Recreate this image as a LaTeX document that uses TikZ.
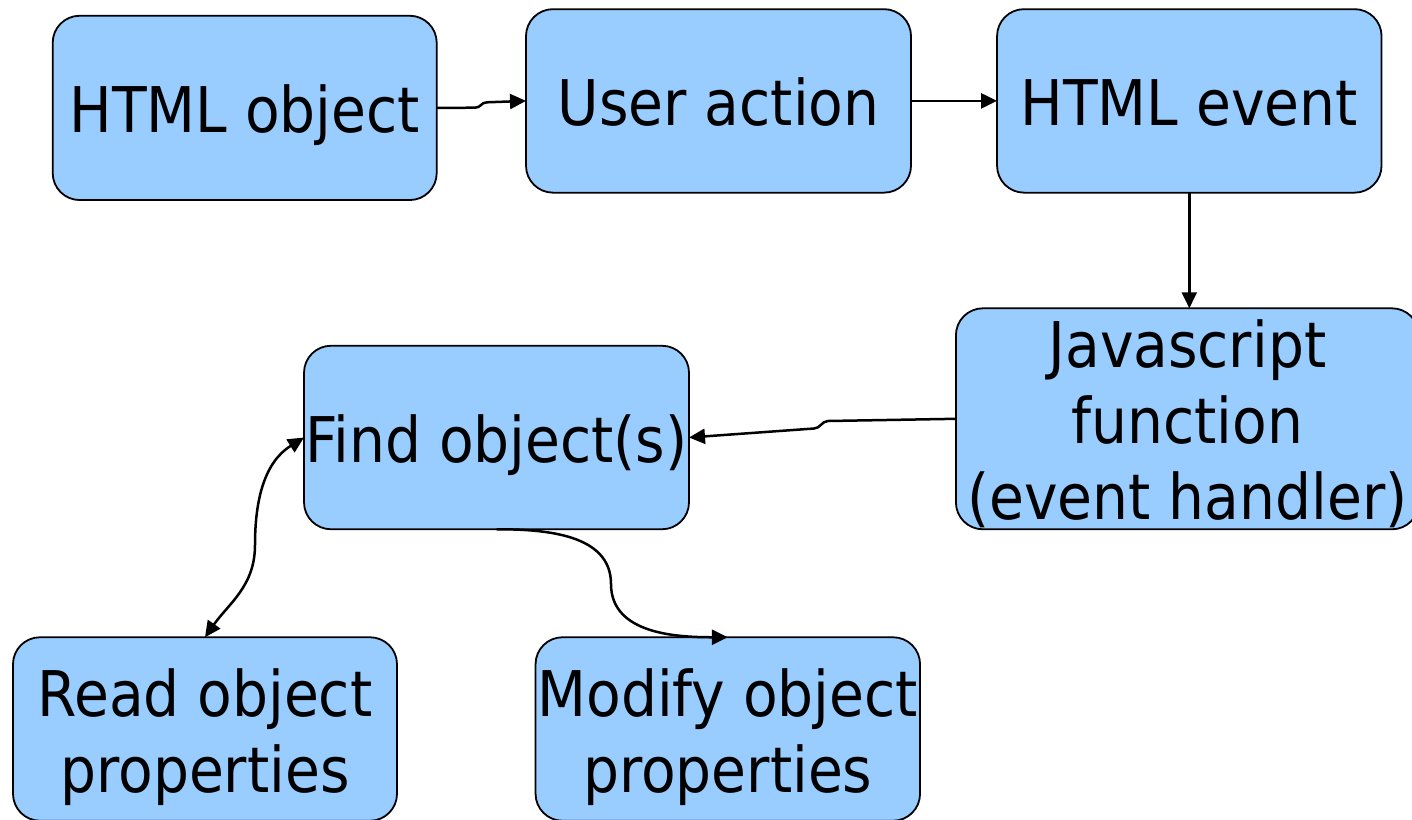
\documentclass[tikz,border=0pt]{standalone}
\usepackage{fontspec}
\setmainfont{DejaVu Sans Condensed}
\usetikzlibrary{arrows.meta}
\definecolor{boxblue}{HTML}{99CCFF}
\begin{document}
\begin{tikzpicture}[x=1pt,y=1pt,
  >={Triangle[length=16pt,width=15pt]},
  box/.style={draw=black, line width=1.8pt, fill=boxblue, rounded corners=27pt,
    inner sep=0pt, outer sep=0pt, font=\fontsize{63}{76}\selectfont,
    text height=50pt, minimum width=384pt, minimum height=183.5pt},
  oneline/.style={text depth=0pt},
  twoline/.style={text depth=76pt},
  threeline/.style={text depth=152pt},
  conn/.style={line width=2.5pt, ->},
  bothconn/.style={line width=2.5pt, <->},
]
\useasboundingbox (0,0) rectangle (1412,-819);
% boxes
\node[box, oneline, minimum height=184.3pt] (obj) at (244.7,-107.9) {HTML object};
\node[box, oneline, minimum width=385pt] (act) at (718.5,-100.9) {User action};
\node[box, oneline, minimum width=384.5pt] (evt) at (1189.3,-100.9) {HTML event};
\node[box, threeline, minimum width=463pt, minimum height=221pt] (js) at (1187.4,-418.8)
  {\begin{tabular}[t]{@{}c@{}}Javascript\\function\\(event handler)\end{tabular}};
\node[box, oneline, minimum width=385pt] (find) at (496.5,-437.5) {Find object(s)};
\node[box, twoline] (read) at (205,-729)
  {\begin{tabular}[t]{@{}c@{}}Read object\\properties\end{tabular}};
\node[box, twoline, minimum width=384.5pt] (mod) at (727.8,-729)
  {\begin{tabular}[t]{@{}c@{}}Modify object\\properties\end{tabular}};
% connectors
\coordinate (k1) at (475,-107.7);
\coordinate (k2) at (487,-102.3);
\draw[conn] (obj.east) -- (k1) .. controls +(6,0) and +(-6,0) .. (k2) -- (act.west);
\draw[conn] (act.east) -- (evt.west);
\draw[conn] (evt.south) -- (evt.south |- js.north);
\coordinate (k3) at (828,-421);
\coordinate (k4) at (814,-428.5);
\draw[conn] (js.west) -- (k3) .. controls +(-6,0) and +(6,0) .. (k4) -- (find.east);
\coordinate (k5) at (611,-584);
\draw[conn] (find.south) to[out=0,in=90] (k5) to[out=-90,in=180] (mod.north);
\coordinate (k6) at (255,-545);
\draw[bothconn] (read.north) to[out=55,in=-90] (k6) to[out=90,in=212] (find.west);
\end{tikzpicture}
\end{document}
